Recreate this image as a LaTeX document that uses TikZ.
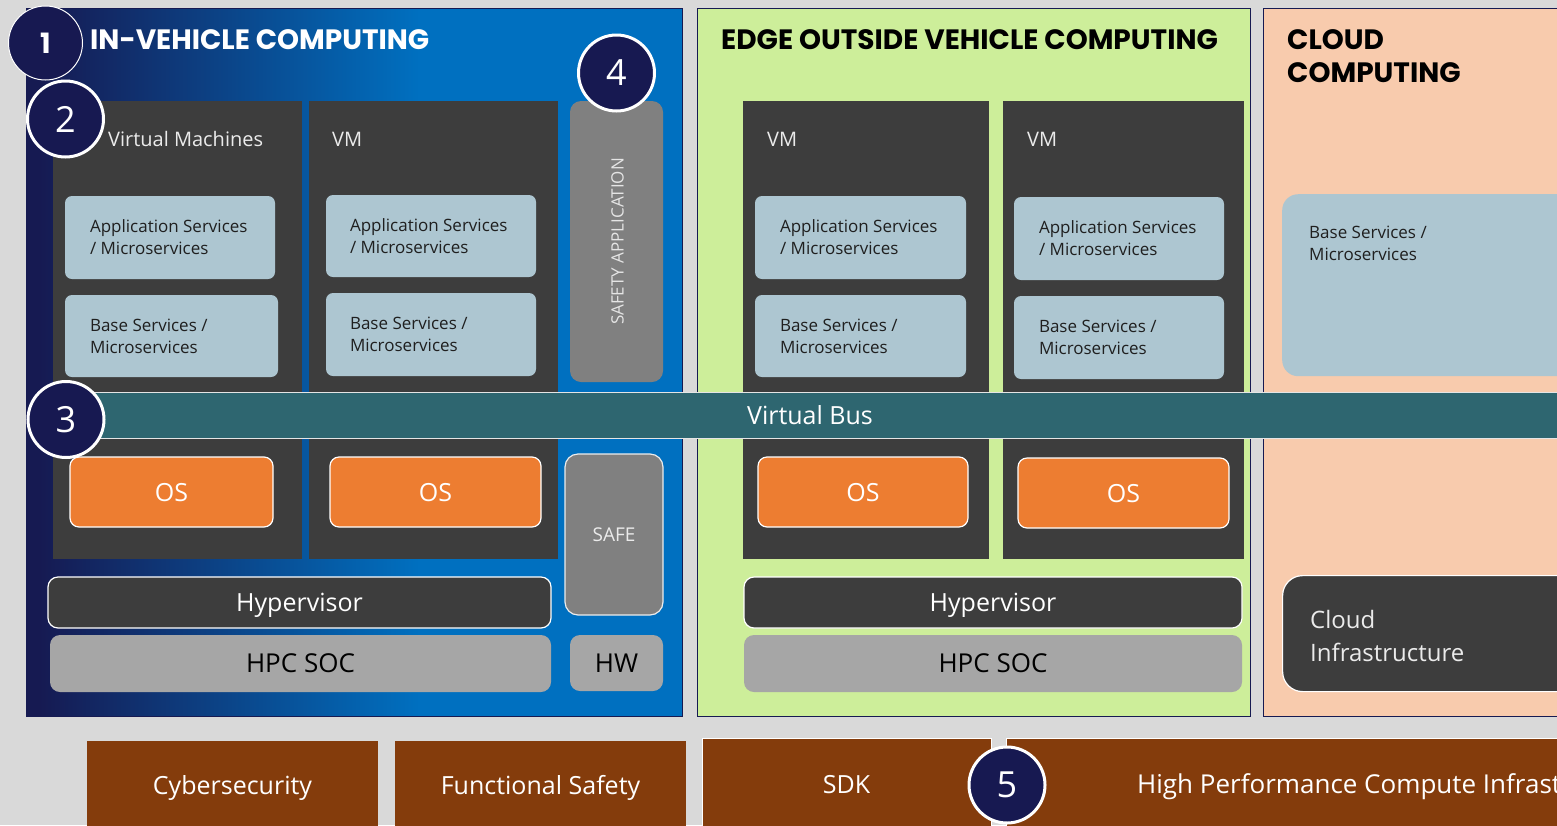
\documentclass[tikz,border=0pt]{standalone}
\usepackage{fontspec}
\setmainfont{Open Sans}
\newfontfamily\titlefont{Poppins}

\definecolor{pagebg}{HTML}{D9D9D9}
\definecolor{navy}{HTML}{161A52}
\definecolor{carblue}{HTML}{0070C0}
\definecolor{edgegreen}{HTML}{CDEE9A}
\definecolor{cloudpeach}{HTML}{F8CBAD}
\definecolor{vmgray}{HTML}{3D3D3D}
\definecolor{svcblue}{HTML}{ADC6D1}
\definecolor{safegray}{HTML}{808080}
\definecolor{osorange}{HTML}{ED7D31}
\definecolor{socgray}{HTML}{A6A6A6}
\definecolor{busteal}{HTML}{2E6670}
\definecolor{bandbrown}{HTML}{843C0C}
\definecolor{badgenavy}{HTML}{171951}

% navy on the left, fading into blue
\pgfdeclarehorizontalshading{carshade}{100bp}{color(0bp)=(navy); color(26bp)=(navy); color(55bp)=(carblue); color(100bp)=(carblue)}

% box from (x1,y1) to (x2,y2): style, name, x1, y1, x2, y2, text
\newcommand\bx[7]{\node[#1, minimum width={(#5-#3)*1pt}, minimum height={(#6-#4)*1pt}] (#2) at ({(#3+#5)/2},{(#4+#6)/2}) {#7};}

\tikzset{
  panel/.style={draw=navy, line width=1pt, inner sep=0pt, outer sep=0pt},
  vmcol/.style={fill=vmgray, inner sep=0pt, outer sep=0pt},
  svcbox/.style={fill=svcblue, rounded corners=7pt, inner sep=0pt},
  svctext/.style={anchor=west, align=left, inner sep=0pt, text=black!88, font=\fontsize{17}{22}\selectfont},
  vmtitle/.style={anchor=base west, inner sep=0pt, text=white!92!black, font=\fontsize{20}{24}\selectfont},
  title/.style={inner sep=0pt, font=\titlefont\bfseries\fontsize{28}{33}\selectfont},
  big/.style={font=\fontsize{25}{30}\selectfont, text height=18pt, text depth=0pt, inner sep=0pt},
  osbox/.style={big, fill=osorange, draw=white, line width=1.2pt, rounded corners=9pt, text=white},
  hypbox/.style={big, fill=vmgray, draw=white, line width=1.2pt, rounded corners=10pt, text=white},
  socbox/.style={big, font=\fontsize{26}{30}\selectfont, fill=socgray, rounded corners=10pt, text=black},
  safebox/.style={fill=safegray, draw=white!85!gray, line width=1.2pt, rounded corners=13pt, text=white!92!black, inner sep=0pt, font=\fontsize{19}{23}\selectfont, text height=13.5pt, text depth=0pt},
  safeapp/.style={fill=safegray, rounded corners=11pt, inner sep=0pt},
  bus/.style={big, fill=busteal, draw=white!80!gray, line width=1pt, text=white},
  band/.style={big, fill=bandbrown, text=white},
  bandline/.style={band, draw=white, line width=1pt},
  cloudinfra/.style={fill=vmgray, draw=white, line width=1.2pt, rounded corners=20pt, inner sep=0pt},
  badge/.style={circle, fill=badgenavy, draw=white, line width=3pt, text=white, inner sep=0pt, minimum size=76pt, font=\fontsize{36}{40}\selectfont},
}

\begin{document}
\begin{tikzpicture}[x=1pt,y=-1pt]
\useasboundingbox (0,0) rectangle (1557,825);
\clip (0,0) rectangle (1557,825);
\fill[pagebg] (0,0) rectangle (1557,825);

% three computing domains
\bx{panel, shade, shading=carshade}{incar}{26}{8}{682}{716}{}
\bx{panel, fill=edgegreen}{edge}{697}{8}{1250}{716}{}
\bx{panel, fill=cloudpeach}{cloud}{1263}{8}{1580}{716}{}

% virtual machine columns
\bx{vmcol}{vma}{53}{101}{302}{559}{}
\bx{vmcol}{vmb}{309}{101}{558}{559}{}
\bx{vmcol}{vmc}{743}{101}{989}{559}{}
\bx{vmcol}{vmd}{1003}{101}{1244}{559}{}

\node[vmtitle] (vmat) at (108,146) {Virtual Machines};
\node[vmtitle] (vmbt) at (332,146) {VM};
\node[vmtitle] (vmct) at (767,146) {VM};
\node[vmtitle] (vmdt) at (1027,146) {VM};

% service layers
\bx{svcbox}{appa}{65}{196}{275}{279}{}
\bx{svcbox}{basea}{65}{295}{278}{377}{}
\bx{svcbox}{appb}{326}{195}{536}{277}{}
\bx{svcbox}{baseb}{326}{293}{536}{376}{}
\bx{svcbox}{appc}{755}{196}{966}{279}{}
\bx{svcbox}{basec}{755}{295}{966}{377}{}
\bx{svcbox}{appd}{1014}{197}{1224}{280}{}
\bx{svcbox}{based}{1014}{296}{1224}{379}{}
\node[svcbox, rounded corners=16pt, minimum width=320pt, minimum height=182pt, anchor=north west] (basecl) at (1282,194) {};

\node[svctext] (appat) at ([xshift=25pt]appa.west) {Application Services\\/ Microservices};
\node[svctext] (baseat) at ([xshift=25pt]basea.west) {Base Services /\\Microservices};
\node[svctext] (appbt) at ([xshift=24pt]appb.west) {Application Services\\/ Microservices};
\node[svctext] (basebt) at ([xshift=24pt]baseb.west) {Base Services /\\Microservices};
\node[svctext] (appct) at ([xshift=25pt]appc.west) {Application Services\\/ Microservices};
\node[svctext] (basect) at ([xshift=25pt]basec.west) {Base Services /\\Microservices};
\node[svctext] (appdt) at ([xshift=25pt]appd.west) {Application Services\\/ Microservices};
\node[svctext] (basedt) at ([xshift=25pt]based.west) {Base Services /\\Microservices};
\node[svctext, anchor=north west] (baseclt) at (1309,226) {Base Services /\\Microservices};

% safety application
\bx{safeapp}{sapp}{570}{101}{663}{382}{}
\node[rotate=90, inner sep=0pt, text=white!90!black, font=\fontsize{17}{20}\selectfont] (sappt) at ([xshift=1pt]sapp.center) {SAFETY APPLICATION};

% virtual bus
\bx{bus}{vbus}{60}{392}{1560}{438}{Virtual Bus}

% operating systems
\bx{osbox}{osa}{70}{457}{273}{527}{OS}
\bx{osbox}{osb}{330}{457}{541}{527}{OS}
\bx{osbox}{osc}{758}{457}{968}{527}{OS}
\bx{osbox}{osd}{1018}{458}{1229}{528}{OS}
\bx{safebox}{safe}{565}{454}{663}{615}{SAFE}

% hypervisors and hardware
\bx{hypbox}{hypa}{48}{577}{551}{628}{Hypervisor}
\bx{socbox}{soca}{50}{635}{551}{692}{HPC SOC}
\bx{socbox}{hw}{570}{635}{663}{691}{HW}
\bx{hypbox}{hypb}{744}{577}{1242}{628}{Hypervisor}
\bx{socbox}{socb}{744}{635}{1242}{692}{HPC SOC}

\node[cloudinfra, minimum width=320pt, minimum height=116pt, anchor=north west] (cinfra) at (1282,575) {};
\node[anchor=west, align=left, inner sep=0pt, text=white!92!black, font=\fontsize{24}{33}\selectfont] (cinfrat) at ([xshift=28pt, yshift=-2pt]cinfra.west) {Cloud\\Infrastructure};

% cross-cutting foundations
\bx{band}{cyber}{87}{741}{378}{830}{Cybersecurity}
\bx{band}{fsafe}{395}{741}{686}{830}{Functional Safety}
\bx{bandline}{sdk}{702}{738}{991}{830}{SDK}
\node[bandline, minimum width=700pt, minimum height=92pt, anchor=north west] (hpci) at (1006,738) {};
\node[big, font=\fontsize{26}{30}\selectfont, text=white, anchor=west] (hpcit) at ([xshift=131pt]hpci.west) {High Performance Compute Infrastructure};

% headings
\node[title, text=white, anchor=base west] (tcar) at (90,49) {IN-VEHICLE COMPUTING};
\node[title, text=black, anchor=base west] (tedge) at (721,49) {EDGE OUTSIDE VEHICLE COMPUTING};
\node[title, text=black, anchor=north west, align=left] (tcloud) at (1287,29) {CLOUD\\COMPUTING};

% numbered markers
\node[badge, line width=1pt, minimum size=74pt, font=\titlefont\bfseries\fontsize{28}{32}\selectfont] (m1) at (45.5,43) {1};
\node[badge] (m2) at (65.5,119) {2};
\node[badge] (m3) at (66,419.5) {3};
\node[badge] (m4) at (616.5,73) {4};
\node[badge] (m5) at (1007,785) {5};
\end{tikzpicture}
\end{document}
